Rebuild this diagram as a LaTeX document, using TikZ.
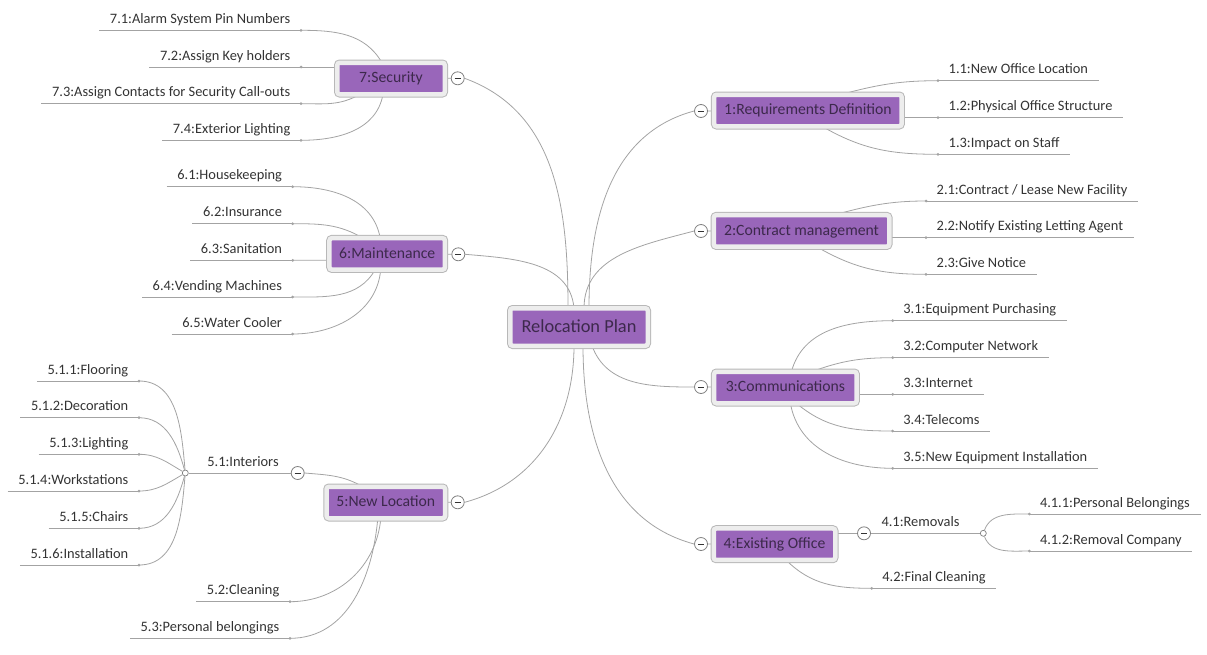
\documentclass[tikz,border=0pt]{standalone}
\usepackage{fontspec}
\setmainfont{Carlito}
\usetikzlibrary{positioning}
\usetikzlibrary{backgrounds}
\definecolor{mpurple}{rgb}{0.6, 0.4, 0.73}
\definecolor{mframe}{rgb}{0.93, 0.93, 0.93}
\definecolor{mborder}{rgb}{0.72, 0.72, 0.72}
\definecolor{mtext}{rgb}{0.24, 0.16, 0.3}
\definecolor{mleaf}{rgb}{0.2, 0.2, 0.2}
\definecolor{mline}{rgb}{0.64, 0.64, 0.64}
\tikzset{knob/.style = {fill=mline, circle, inner sep = 0, minimum size = 3}}
\tikzset{conn/.style = {mline, line width=0.8pt}}
\tikzset{uline/.style = {mline, line width=1pt}}
\tikzset{topic/.style = {fill=mpurple, draw=mframe, line width=4.5pt,
    preaction={draw=mborder, line width=6.5pt}, rounded corners=2.5pt,
    outer sep=0, inner sep=0, text=mtext, font=\fontsize{15.7}{18}\selectfont,
    text height=11.5pt, text depth=3pt, minimum height=31.5pt}}
\tikzset{root/.style = {topic, font=\fontsize{18.4}{21}\selectfont,
    text height=12.5pt, text depth=2pt, minimum width=137.5pt, minimum height=37.5pt}}
\tikzset{collapse/.style = {circle, draw=gray, fill=white, line width=0.8pt,
    minimum size=13pt, inner sep=0,
    path picture={\draw [mleaf, line width=1pt] ([xshift=-3pt]path picture bounding box.center)
      -- ([xshift=3pt]path picture bounding box.center);}}}
\tikzset{junc/.style = {circle, draw=gray, fill=white, line width=0.7pt, minimum size=6pt, inner sep=0}}
\tikzset{leaf/.style = {font=\fontsize{14.4}{16}\selectfont, text=mleaf, inner xsep=10.5pt,
    inner ysep=6.7pt, text height=9.5pt, text depth=0pt}}
\tikzset{leafr/.style = {leaf, anchor=south west,
    append after command={(\tikzlastnode.south west) edge [uline] (\tikzlastnode.south east)
      node [knob] at (\tikzlastnode.south west) {}}}}
\tikzset{leafl/.style = {leaf, anchor=south east,
    append after command={(\tikzlastnode.south west) edge [uline] (\tikzlastnode.south east)
      node [knob] at (\tikzlastnode.south east) {}}}}

\begin{document}
\begin{tikzpicture}[x=1pt, y=-1pt]
  \useasboundingbox (0, 0) rectangle (1207, 654);

  \node [root] (plan) at (579, 327) {Relocation Plan};

  % main topics
  \node [topic, minimum width=107.5pt] (sec) at (391, 78.5) {7:Security};
  \node [topic, minimum width=115.5pt] (maint) at (387.2, 253.9) {6:Maintenance};
  \node [topic, minimum width=118.5pt] (newloc) at (385.8, 502.5) {5:New Location};
  \node [topic, minimum width=187.5pt] (req) at (807.9, 110.5) {1:Requirements Definition};
  \node [topic, minimum width=175.5pt] (contract) at (801.5, 230.9) {2:Contract management};
  \node [topic, minimum width=142.5pt] (comm) at (785.4, 387.5) {3:Communications};
  \node [topic, minimum width=121.5pt] (exist) at (774.5, 544.2) {4:Existing Office};

  \node [collapse] (c7) at (457.7, 78.3) {};
  \node [collapse] (c6) at (458.3, 254.3) {};
  \node [collapse] (c5) at (457.7, 502.3) {};
  \node [collapse] (c1) at (701, 111) {};
  \node [collapse] (c2) at (701, 231) {};
  \node [collapse] (c3) at (701, 387) {};
  \node [collapse] (c4) at (701, 544) {};
  \node [collapse] (c51) at (297.7, 473) {};
  \node [collapse] (c41) at (864, 533.3) {};
  \node [junc] (j51) at (185.3, 473) {};
  \node [junc] (j41) at (983.3, 533.3) {};

  % left side
  \node [leafl] (l71) at (301, 30.3) {7.1:Alarm System Pin Numbers};
  \node [leafl] (l72) at (301, 67) {7.2:Assign Key holders};
  \node [leafl] (l73) at (301, 103.7) {7.3:Assign Contacts for Security Call-outs};
  \node [leafl] (l74) at (301, 140.3) {7.4:Exterior Lighting};
  \node [leafl] (l61) at (292.7, 186.7) {6.1:Housekeeping};
  \node [leafl] (l62) at (292.7, 223.7) {6.2:Insurance};
  \node [leafl] (l63) at (292.7, 260.3) {6.3:Sanitation};
  \node [leafl] (l64) at (292.7, 297) {6.4:Vending Machines};
  \node [leafl] (l65) at (292.7, 334) {6.5:Water Cooler};
  \node [leaf, anchor=south] (l51) at (243, 473) {5.1:Interiors};
  \node [leafl] (l511) at (139, 381) {5.1.1:Flooring};
  \node [leafl] (l512) at (139, 417.7) {5.1.2:Decoration};
  \node [leafl] (l513) at (139, 454.3) {5.1.3:Lighting};
  \node [leafl] (l514) at (139, 491) {5.1.4:Workstations};
  \node [leafl] (l515) at (139, 528.3) {5.1.5:Chairs};
  \node [leafl] (l516) at (139, 565) {5.1.6:Installation};
  \node [leafl] (l52) at (290, 601.7) {5.2:Cleaning};
  \node [leafl] (l53) at (290, 638.3) {5.3:Personal belongings};

  % right side
  \node [leafr] (l11) at (938, 80.7) {1.1:New Office Location};
  \node [leafr] (l12) at (938, 117.7) {1.2:Physical Office Structure};
  \node [leafr] (l13) at (938, 154.3) {1.3:Impact on Staff};
  \node [leafr] (l21) at (926, 201) {2.1:Contract / Lease New Facility};
  \node [leafr] (l22) at (926, 237.7) {2.2:Notify Existing Letting Agent};
  \node [leafr] (l23) at (926, 274.3) {2.3:Give Notice};
  \node [leafr] (l31) at (892.7, 320.7) {3.1:Equipment Purchasing};
  \node [leafr] (l32) at (892.7, 357.7) {3.2:Computer Network};
  \node [leafr] (l33) at (892.7, 394.3) {3.3:Internet};
  \node [leafr] (l34) at (892.7, 431) {3.4:Telecoms};
  \node [leafr] (l35) at (892.7, 468.3) {3.5:New Equipment Installation};
  \node [leaf, anchor=south] (l41) at (920.5, 533.3) {4.1:Removals};
  \node [leafr] (l411) at (1029.3, 514) {4.1.1:Personal Belongings};
  \node [leafr] (l412) at (1029.3, 551) {4.1.2:Removal Company};
  \node [leafr] (l42) at (871.7, 588.3) {4.2:Final Cleaning};

  \begin{scope}[on background layer]
    \draw [conn] ([xshift=-11pt]plan.north) to [out=90, in=-20] (c7.east);
    \draw [conn] ([xshift=-5pt]plan.north) to [out=95, in=-5] (c6.east);
    \draw [conn] ([xshift=-5pt]plan.south) to [out=-90, in=15] (c5.east);
    \draw [conn] ([xshift=10pt]plan.north) to [out=90, in=195] (c1.west);
    \draw [conn] ([xshift=5pt]plan.north) to [out=90, in=195] (c2.west);
    \draw [conn] ([xshift=13pt]plan.south) to [out=-70, in=180] (c3.west);
    \draw [conn] ([xshift=4pt]plan.south) to [out=-90, in=165] (c4.west);

    \draw [conn] (c7) -- (sec);
    \draw [conn] (c6) -- (maint);
    \draw [conn] (c5) -- (newloc);
    \draw [conn] (c1) -- (req);
    \draw [conn] (c2) -- (contract);
    \draw [conn] (c3) -- (comm);
    \draw [conn] (c4) -- (exist);

    \draw [conn] ([xshift=-9pt]sec.north) to [out=120, in=0] (l71.south east);
    \draw [conn] ([yshift=11.5pt]sec.west) -- (l72.south east);
    \draw [conn] ([xshift=-31pt]sec.south) to [out=210, in=0] (l73.south east);
    \draw [conn] ([xshift=-8pt]sec.south) to [out=-100, in=0] (l74.south east);

    \draw [conn] ([xshift=-7pt]maint.north) to [out=100, in=0] (l61.south east);
    \draw [conn] ([xshift=-24pt]maint.north) to [out=150, in=0] (l62.south east);
    \draw [conn] ([yshift=-6.4pt]maint.west) -- (l63.south east);
    \draw [conn] ([xshift=-12pt]maint.south) to [out=-120, in=0] (l64.south east);
    \draw [conn] ([xshift=-6.5pt]maint.south) to [out=-95, in=0] (l65.south east);

    \draw [conn] ([xshift=-23pt]newloc.north) to [out=150, in=-5] (c51.east);
    \draw [uline] (j51) -- (c51);
    \draw [conn] (j51) to [out=95, in=0] (l511.south east);
    \draw [conn] (j51) to [out=105, in=0] (l512.south east);
    \draw [conn] (j51) to [out=150, in=0] (l513.south east);
    \draw [conn] (j51) to [out=210, in=0] (l514.south east);
    \draw [conn] (j51) to [out=255, in=0] (l515.south east);
    \draw [conn] (j51) to [out=265, in=0] (l516.south east);
    \draw [conn] ([xshift=-5pt]newloc.south) to [out=-95, in=0] (l52.south east);
    \draw [conn] ([xshift=-8pt]newloc.south) to [out=-95, in=0] (l53.south east);

    \draw [conn] ([xshift=32pt]req.north) to [out=15, in=180] (l11.south west);
    \draw [conn] ([yshift=-7.2pt]req.east) -- (l12.south west);
    \draw [conn] ([xshift=14pt]req.south) to [out=-30, in=180] (l13.south west);

    \draw [conn] ([xshift=31.5pt]contract.north) to [out=15, in=180] (l21.south west);
    \draw [conn] ([yshift=-6.8pt]contract.east) -- (l22.south west);
    \draw [conn] ([xshift=15pt]contract.south) to [out=-30, in=180] (l23.south west);

    \draw [conn] ([xshift=6pt]comm.north) to [out=75, in=180] (l31.south west);
    \draw [conn] ([xshift=26pt]comm.north) to [out=20, in=180] (l32.south west);
    \draw [conn] ([yshift=-6.8pt]comm.east) -- (l33.south west);
    \draw [conn] ([xshift=11pt]comm.south) to [out=-40, in=180] (l34.south west);
    \draw [conn] ([xshift=5pt]comm.south) to [out=-80, in=180] (l35.south west);

    \draw [conn] (c41) -- (c41 -| exist.east);
    \draw [uline] (c41) -- (j41);
    \draw [conn] (j41) to [out=70, in=180] (l411.south west);
    \draw [conn] (j41) to [out=-70, in=180] (l412.south west);
    \draw [conn] ([xshift=11.5pt]exist.south) to [out=-45, in=180] (l42.south west);
  \end{scope}
\end{tikzpicture}
\end{document}
